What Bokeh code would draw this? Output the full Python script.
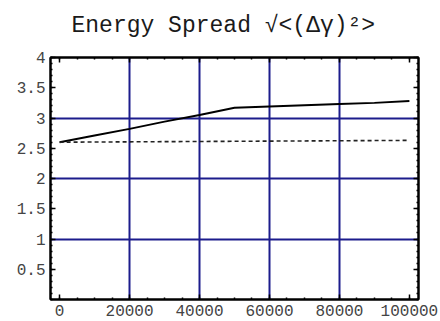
from bokeh.plotting import figure
from bokeh.models import (Range1d, LinearAxis, FixedTicker, BasicTickFormatter)
from bokeh.embed import file_html
from bokeh.resources import INLINE

# ---- data ----
turns = [0, 10000, 20000, 30000, 40000, 50000, 60000, 70000, 80000, 90000, 100000]
spread_solid = [2.60, 2.71, 2.82, 2.94, 3.05, 3.17, 3.19, 3.21, 3.23, 3.25, 3.28]
spread_dashed = [2.60, 2.603, 2.606, 2.609, 2.612, 2.615, 2.618, 2.621, 2.624, 2.627, 2.63]

x_ticks = [0, 20000, 40000, 60000, 80000, 100000]
x_minor = list(range(0, 100001, 5000))
y_ticks = [0.5, 1.0, 1.5, 2.0, 2.5, 3.0, 3.5, 4.0]
y_minor = [i / 10 for i in range(0, 41)]
x_grid = [20000, 40000, 60000, 80000]
y_grid = [1, 2, 3]
X_MIN, X_MAX = -2600, 102600
Y_MIN, Y_MAX = 0, 4

TICK_FONT = "Liberation Mono"
GRID = "#1c1c8c"

FRAME_L, FRAME_R, FRAME_T, FRAME_B = 50, 418, 57, 299

p = figure(width=440, height=321, output_backend="svg", toolbar_location=None,
           x_range=Range1d(X_MIN, X_MAX), y_range=Range1d(Y_MIN, Y_MAX),
           min_border_left=FRAME_L, min_border_right=440 - FRAME_R,
           min_border_top=FRAME_T, min_border_bottom=321 - FRAME_B,
           x_axis_location=None, y_axis_location=None)
p.background_fill_color = "white"
p.border_fill_color = "white"
p.outline_line_color = "black"
p.outline_line_width = 2

p.title.text = "Energy Spread √<(Δγ)²>"
p.title.text_font = "Liberation Mono"
p.title.text_font_size = "23px"
p.title.text_font_style = "normal"
p.title.text_color = "#1a1a1a"
p.title.align = "left"
p.title.offset = 21
p.title.standoff = 0

def style_axis(ax, ticks, minor, labels=True, spacer="12px"):
    ax.ticker = FixedTicker(ticks=ticks, minor_ticks=minor)
    ax.formatter = BasicTickFormatter(use_scientific=False)
    ax.axis_line_color = "black"
    ax.axis_line_width = 2
    ax.major_tick_in = 5
    ax.major_tick_out = 0
    ax.minor_tick_in = 2
    ax.minor_tick_out = 0
    ax.major_tick_line_color = "black"
    ax.minor_tick_line_color = "black"
    ax.major_tick_line_width = 1.5
    ax.minor_tick_line_width = 1.5
    ax.major_label_text_font = TICK_FONT
    ax.major_label_text_font_size = "16px"
    ax.major_label_text_color = "#444444"
    ax.major_label_standoff = 5
    if not labels:
        ax.major_label_overrides = {t: " " for t in ticks}
        ax.major_label_text_font_size = spacer
        ax.major_label_standoff = 2

bottom = LinearAxis()
style_axis(bottom, x_ticks, x_minor)
p.add_layout(bottom, "below")
left = LinearAxis()
style_axis(left, y_ticks, y_minor)
p.add_layout(left, "left")
right = LinearAxis()
style_axis(right, y_ticks, y_minor, labels=False)
p.add_layout(right, "right")
top = LinearAxis()
style_axis(top, x_ticks, x_minor, labels=False, spacer="12px")
p.add_layout(top, "above")

p.xgrid.ticker = FixedTicker(ticks=x_grid)
p.ygrid.ticker = FixedTicker(ticks=y_grid)
for g in (p.xgrid, p.ygrid):
    g.grid_line_color = GRID
    g.grid_line_width = 2

p.line(turns, spread_solid, line_color="black", line_width=2)
p.line(turns, spread_dashed, line_color="#222222", line_width=1.6, line_dash="4 3")

open("out.html", "w").write(file_html(p, INLINE))
